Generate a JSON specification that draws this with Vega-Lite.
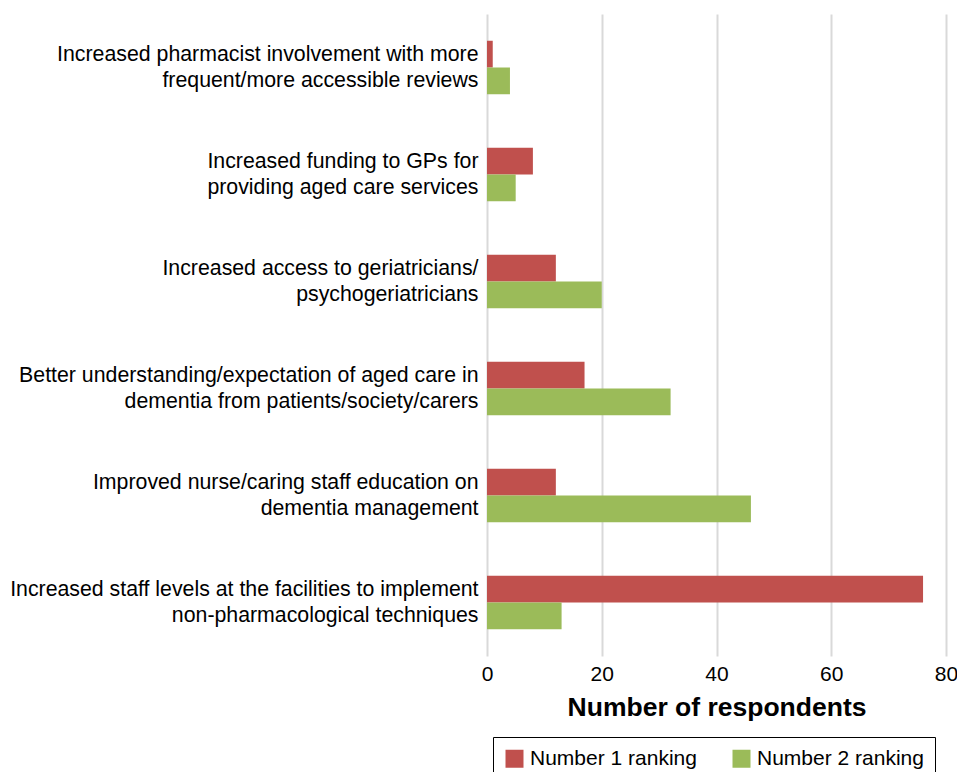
{
  "$schema": "https://vega.github.io/schema/vega-lite/v6.json",
  "width": 459,
  "height": 642,
  "autosize": {"type": "none"},
  "padding": {"left": 487, "top": 14, "right": 11, "bottom": 116},
  "background": "white",
  "config": {
    "font": "Liberation Sans",
    "view": {"stroke": null}
  },
  "data": {
    "values": [
      {"item": "Increased pharmacist involvement with more|frequent/more accessible reviews", "ord": 1, "ranking": "Number 1 ranking", "n": 1},
      {"item": "Increased pharmacist involvement with more|frequent/more accessible reviews", "ord": 1, "ranking": "Number 2 ranking", "n": 4},
      {"item": "Increased funding to GPs for|providing aged care services", "ord": 2, "ranking": "Number 1 ranking", "n": 8},
      {"item": "Increased funding to GPs for|providing aged care services", "ord": 2, "ranking": "Number 2 ranking", "n": 5},
      {"item": "Increased access to geriatricians/|psychogeriatricians", "ord": 3, "ranking": "Number 1 ranking", "n": 12},
      {"item": "Increased access to geriatricians/|psychogeriatricians", "ord": 3, "ranking": "Number 2 ranking", "n": 20},
      {"item": "Better understanding/expectation of aged care in|dementia from patients/society/carers", "ord": 4, "ranking": "Number 1 ranking", "n": 17},
      {"item": "Better understanding/expectation of aged care in|dementia from patients/society/carers", "ord": 4, "ranking": "Number 2 ranking", "n": 32},
      {"item": "Improved nurse/caring staff education on|dementia management", "ord": 5, "ranking": "Number 1 ranking", "n": 12},
      {"item": "Improved nurse/caring staff education on|dementia management", "ord": 5, "ranking": "Number 2 ranking", "n": 46},
      {"item": "Increased staff levels at the facilities to implement|non-pharmacological techniques", "ord": 6, "ranking": "Number 1 ranking", "n": 76},
      {"item": "Increased staff levels at the facilities to implement|non-pharmacological techniques", "ord": 6, "ranking": "Number 2 ranking", "n": 13}
    ]
  },
  "mark": {"type": "bar"},
  "encoding": {
    "y": {
      "field": "item",
      "type": "nominal",
      "sort": {"field": "ord", "op": "min", "order": "ascending"},
      "scale": {"paddingInner": 0.5, "paddingOuter": 0.25},
      "axis": {
        "title": null,
        "labelExpr": "split(datum.label, '|')",
        "labelFontSize": 21.3,
        "labelLineHeight": 26,
        "labelColor": "black",
        "labelPadding": 9,
        "labelOffset": -13,
        "labelLimit": 700,
        "ticks": false,
        "domain": false
      }
    },
    "yOffset": {
      "field": "ranking",
      "type": "nominal",
      "sort": ["Number 1 ranking", "Number 2 ranking"]
    },
    "x": {
      "field": "n",
      "type": "quantitative",
      "scale": {"domain": [0, 80], "nice": false},
      "axis": {
        "title": "Number of respondents",
        "titleFontSize": 26.5,
        "titleFontWeight": "bold",
        "titleColor": "black",
        "titlePadding": 10,
        "values": [0, 20, 40, 60, 80],
        "labelFontSize": 21,
        "labelColor": "black",
        "labelPadding": 7,
        "labelFlush": false,
        "ticks": false,
        "domain": false,
        "grid": true,
        "gridColor": "#d9d9d9",
        "gridWidth": 2
      }
    },
    "color": {
      "field": "ranking",
      "type": "nominal",
      "scale": {"domain": ["Number 1 ranking", "Number 2 ranking"], "range": ["#c0504d", "#9bbb59"]},
      "legend": {
        "title": null,
        "orient": "none",
        "direction": "horizontal",
        "legendX": 6,
        "legendY": 723,
        "symbolType": "square",
        "symbolSize": 324,
        "symbolStrokeWidth": 0,
        "symbolOpacity": 1,
        "labelFontSize": 21,
        "labelColor": "black",
        "labelOffset": 5,
        "columnPadding": 34,
        "padding": 11,
        "strokeColor": "black",
        "fillColor": "white",
        "labelLimit": 300
      }
    }
  }
}
